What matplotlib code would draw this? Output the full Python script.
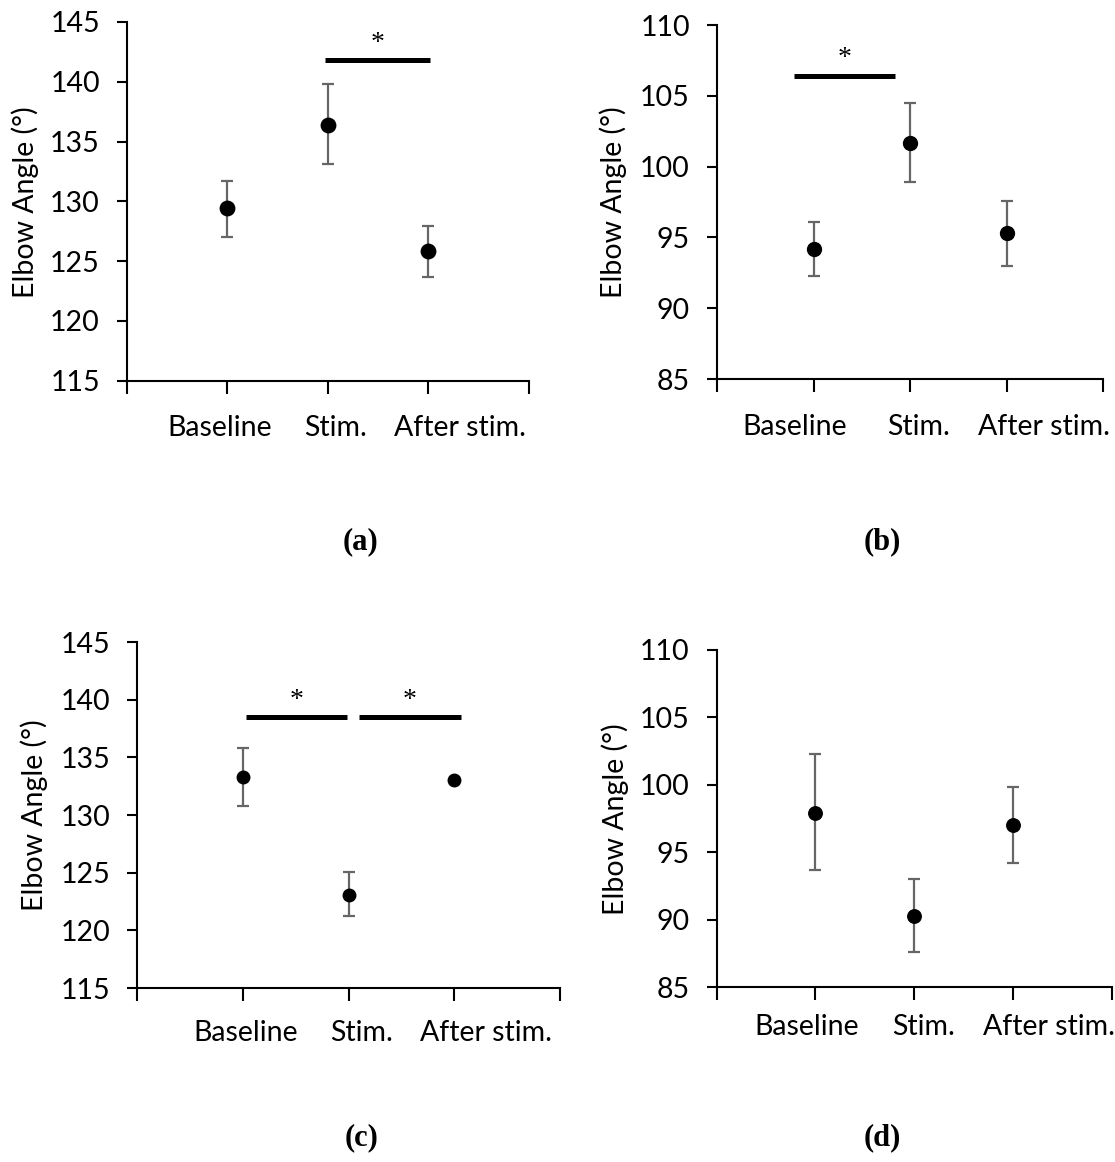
import matplotlib
matplotlib.use("Agg")
import matplotlib.pyplot as plt

W, H = 1115, 1162
DPI = 100

categories = ["Baseline", "Stim.", "After stim."]
ylabel = "Elbow Angle (\u00b0)"
panel_tags = ["(a)", "(b)", "(c)", "(d)"]

# panel (a)
a_mean = [129.4, 136.4, 125.8]
a_upper = [131.7, 139.8, 127.9]
a_lower = [127.0, 133.1, 123.7]
# panel (b)
b_mean = [94.2, 101.7, 95.3]
b_upper = [96.1, 104.5, 97.6]
b_lower = [92.3, 98.9, 93.0]
# panel (c)  (After stim. has no error bar)
c_mean = [133.3, 123.1, 133.0]
c_upper = [135.8, 125.1, 133.0]
c_lower = [130.8, 121.2, 133.0]
# panel (d)
d_mean = [97.9, 90.3, 97.0]
d_upper = [102.3, 93.0, 99.8]
d_lower = [93.7, 87.6, 94.2]

a_ylim, a_yticks = (115, 145), [115, 120, 125, 130, 135, 140, 145]
b_ylim, b_yticks = (85, 110), [85, 90, 95, 100, 105, 110]
c_ylim, c_yticks = (115, 145), [115, 120, 125, 130, 135, 140, 145]
d_ylim, d_yticks = (85, 110), [85, 90, 95, 100, 105, 110]

# significance bars: (x_start, x_end, y)
a_sig = [(1.97, 3.02, 141.8)]
b_sig = [(0.80, 1.84, 106.4)]
c_sig = [(1.03, 1.98, 138.5), (2.10, 3.06, 138.5)]
d_sig = []

font = ["Lato", "DejaVu Sans"]
FS = 20.5

fig = plt.figure(figsize=(W / DPI, H / DPI), dpi=DPI)


def add_axes_px(x0, y0, x1, y1):
    return fig.add_axes([x0 / W, 1 - y1 / H, (x1 - x0) / W, (y1 - y0) / H])


panels = [
    dict(box=(127, 22, 528.5, 380.5), mean=a_mean, up=a_upper, lo=a_lower, ylim=a_ylim,
         yt=a_yticks, sig=a_sig, ms=10.4, lab_x=[220, 336, 460], lab_y=428,
         yl=(25, 202), tag=(360, 542)),
    dict(box=(717, 25, 1103, 379), mean=b_mean, up=b_upper, lo=b_lower, ylim=b_ylim,
         yt=b_yticks, sig=b_sig, ms=10.0, lab_x=[795, 919, 1044], lab_y=427,
         yl=(613, 202), tag=(882, 542)),
    dict(box=(137.3, 642, 560, 988), mean=c_mean, up=c_upper, lo=c_lower, ylim=c_ylim,
         yt=c_yticks, sig=c_sig, ms=9.0, lab_x=[246, 362, 486], lab_y=1033,
         yl=(34, 815), tag=(362, 1138)),
    dict(box=(716.7, 650, 1111.7, 987), mean=d_mean, up=d_upper, lo=d_lower, ylim=d_ylim,
         yt=d_yticks, sig=d_sig, ms=9.7, lab_x=[807, 924, 1049], lab_y=1027,
         yl=(615, 819), tag=(882, 1138)),
]

xpos = [1, 2, 3]

for p, tag in zip(panels, panel_tags):
    ax = add_axes_px(*p["box"])
    yerr = [[m - l for m, l in zip(p["mean"], p["lo"])],
            [u - m for m, u in zip(p["mean"], p["up"])]]
    ax.errorbar(xpos, p["mean"], yerr=yerr, fmt="none", ecolor="#666666",
                elinewidth=1.6, capsize=4.5, capthick=1.6, zorder=2)
    ax.plot(xpos, p["mean"], "o", color="black", markersize=p["ms"], zorder=3)
    ax.set_xlim(0, 4)
    ax.set_ylim(*p["ylim"])
    ax.set_yticks(p["yt"])
    ax.set_xticks([0, 1, 2, 3, 4])
    ax.set_xticklabels([])
    ax.tick_params(axis="x", direction="out", length=9, width=1.5, colors="black")
    ax.tick_params(axis="y", direction="out", length=7.5, width=1.5, pad=12,
                   labelsize=FS)
    for lbl in ax.get_yticklabels():
        lbl.set_family(font)
    for s in ["top", "right"]:
        ax.spines[s].set_visible(False)
    for s in ["left", "bottom"]:
        ax.spines[s].set_linewidth(1.5)
    for x0, x1, y in p["sig"]:
        ax.plot([x0, x1], [y, y], color="black", lw=3.6, solid_capstyle="butt",
                clip_on=False)
        ax.text((x0 + x1) / 2, y + 0.35, "*", ha="center", va="bottom",
                fontsize=20, family="Liberation Serif")
    for cat, lx in zip(categories, p["lab_x"]):
        fig.text(lx / W, 1 - p["lab_y"] / H, cat, ha="center", va="center",
                 fontsize=FS, family=font)
    fig.text(p["tag"][0] / W, 1 - p["tag"][1] / H, tag, ha="center", va="center",
             fontsize=22, fontweight="bold", family="Liberation Serif")
    fig.text(p["yl"][0] / W, 1 - p["yl"][1] / H, ylabel, rotation=90,
             ha="center", va="center", fontsize=FS, family=font)

fig.savefig("out.png", dpi=DPI)
